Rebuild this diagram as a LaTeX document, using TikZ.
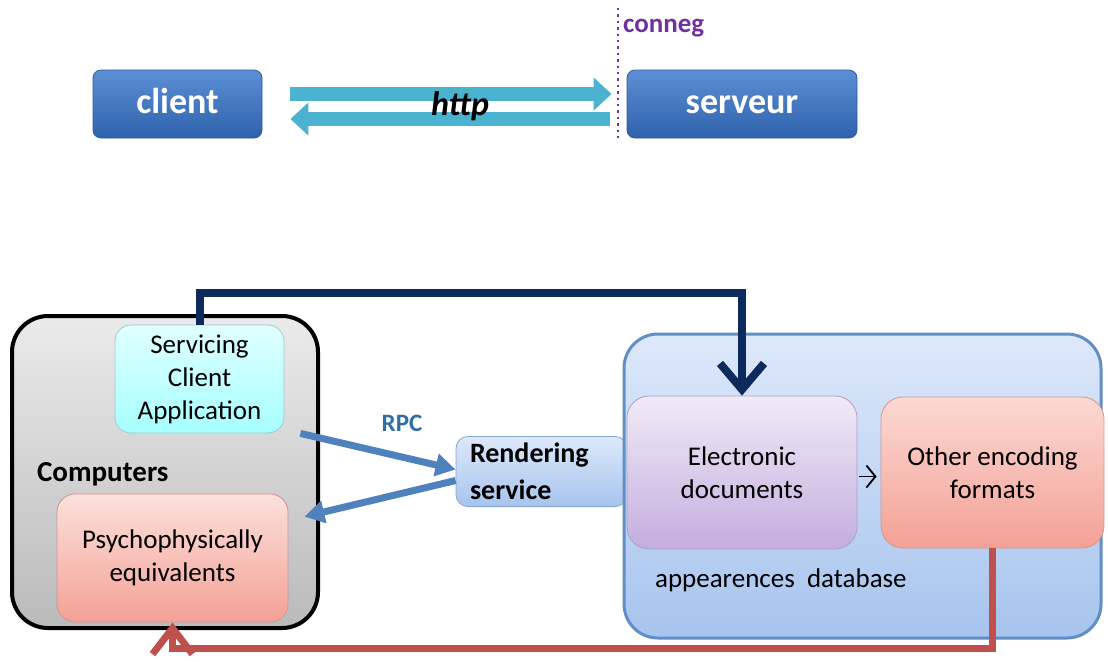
\documentclass[tikz,border=0pt]{standalone}
\usepackage{fontspec}
\setmainfont{Carlito}
\usetikzlibrary{arrows.meta}
\definecolor{boxTop}{HTML}{5C8FD4}
\definecolor{boxBottom}{HTML}{2E62AC}
\definecolor{boxEdge}{HTML}{2D5C9C}
\definecolor{httpBlue}{HTML}{4BB3CF}
\definecolor{rpcBlue}{HTML}{4F81BD}
\definecolor{rpcText}{HTML}{2F6FA8}
\definecolor{navy}{HTML}{0E2A5C}
\definecolor{backRed}{HTML}{C0504D}
\definecolor{connegPurple}{HTML}{7030A0}
\definecolor{baseTop}{HTML}{DDE8FA}
\definecolor{baseBottom}{HTML}{A7C4EE}
\definecolor{docTop}{HTML}{F1EAF6}
\definecolor{docBottom}{HTML}{C3AEE0}
\definecolor{formatTop}{HTML}{FBD9D3}
\definecolor{formatBottom}{HTML}{F4A196}

\begin{document}
\begin{tikzpicture}
    [x=0.5pt, y=-0.5pt,
    BlueBox/.style={rectangle, rounded corners=4pt, draw=boxEdge, top color=boxTop, bottom color=boxBottom, minimum height=34pt, text height=13pt, text depth=4pt, text=white, font=\fontsize{18}{21}\selectfont\bfseries},
    ComputerBox/.style={rectangle, rounded corners=18pt, draw=black, line width=2pt, top color=black!8, bottom color=black!27, minimum width=153pt, minimum height=156pt},
    ServiceBox/.style={rectangle, rounded corners=8pt, draw=cyan!40!gray!60, top color=cyan!12, bottom color=cyan!35, minimum width=84.5pt, minimum height=54pt, align=center, font=\fontsize{13.5}{16.5}\selectfont},
    PsychoBox/.style={rectangle, rounded corners=9pt, draw=red!40!gray!60, top color=formatTop!80!white, bottom color=formatBottom, minimum width=115.5pt, minimum height=64pt, align=center, font=\fontsize{13.5}{16.5}\selectfont},
    RenderBox/.style={rectangle, rounded corners=6pt, draw=rpcBlue!70, top color=baseTop, bottom color=baseBottom, minimum width=85.5pt, minimum height=34.5pt, align=left, text width=71.5pt, inner xsep=7pt, font=\fontsize{14}{18.5}\selectfont\bfseries},
    BaseBox/.style={rectangle, rounded corners=17pt, draw=rpcBlue!90, line width=1.5pt, top color=baseTop, bottom color=baseBottom, minimum width=238.5pt, minimum height=152pt},
    DocBox/.style={rectangle, rounded corners=11pt, draw=docBottom!70!gray, top color=docTop, bottom color=docBottom, minimum width=115pt, minimum height=76.5pt, align=center, font=\fontsize{13.5}{16.5}\selectfont},
    FormatBox/.style={rectangle, rounded corners=11pt, draw=formatBottom!70!gray, top color=formatTop, bottom color=formatBottom, minimum width=111.5pt, minimum height=75.5pt, align=center, font=\fontsize{13.5}{16.5}\selectfont},
    HttpArrow/.style={draw=httpBlue, line width=7pt, -{Triangle[length=9pt, width=16pt]}},
    RpcArrow/.style={draw=rpcBlue, line width=3.5pt, -{Triangle[length=10pt, width=11pt]}},
    NavyArrow/.style={draw=navy, line width=4pt, -{Straight Barb[length=13pt, width=22pt]}},
    RedArrow/.style={draw=backRed, line width=3.5pt, -{Straight Barb[length=13pt, width=20pt]}}]
    \useasboundingbox (0, 0) rectangle (1108, 661);
    \node[BlueBox, minimum width=84.5pt] (client) at (177.5, 104){client};
    \node[BlueBox, minimum width=115pt] (serveur) at (742, 104){serveur};
    \draw[HttpArrow, shorten <=14pt, shorten >=7.5pt] ([yshift=5pt]client.east) -- ([yshift=5pt]serveur.west);
    \draw[HttpArrow, shorten <=8.5pt, shorten >=14pt] ([yshift=-7.5pt]serveur.west) -- ([yshift=-7.5pt]client.east);
    \node[font=\fontsize{17}{20}\selectfont\bfseries\itshape] (http) at (460, 106){http};
    \draw[connegPurple, line width=1.2pt, dotted] (618, 8) -- (618, 140);
    \node[anchor=west, text=connegPurple, font=\fontsize{13.5}{16}\selectfont\bfseries] (conneg) at (616, 28){conneg};
    \node[ComputerBox] (computers) at (165, 472){};
    \node[ServiceBox] (servicing) at (199.5, 379){Servicing\\Client\\Application};
    \node[anchor=west, font=\fontsize{14.5}{17}\selectfont\bfseries] (complabel) at (30, 474){Computers};
    \node[PsychoBox] (psycho) at (172.5, 558){Psychophysically\\equivalents};
    \node[RenderBox] (rendering) at (541.5, 471.5){Rendering\\service};
    \node[text=rpcText, font=\fontsize{12.5}{15}\selectfont\bfseries] (rpc) at (402, 423){RPC};
    \node[BaseBox] (database) at (862.5, 486){};
    \node[DocBox] (electronic) at (742, 472.5){Electronic\\documents};
    \node[FormatBox] (other) at (992.5, 472.5){Other encoding\\formats};
    \node[anchor=west, font=\fontsize{13.5}{16}\selectfont] (dblabel) at (648, 580){appearences\ \ database};
    \draw[line width=0.9pt, -{Straight Barb[length=4.5pt, width=11pt]}, shorten <=1pt, shorten >=2pt] ([yshift=-2pt]electronic.east) -- ([yshift=-2pt]other.west);
    \draw[RpcArrow] ([xshift=8pt]servicing.south east) -- ([yshift=1pt]rendering.west);
    \draw[RpcArrow] ([yshift=-4.5pt]rendering.west) -- ([xshift=8pt, yshift=-11.5pt]psycho.north east);
    \draw[NavyArrow] (servicing.north) -- ++(0, -32) -| (electronic.north);
    \draw[RedArrow] (other.south) -- ++(0, 100) -| (psycho.south);
\end{tikzpicture}
\end{document}
